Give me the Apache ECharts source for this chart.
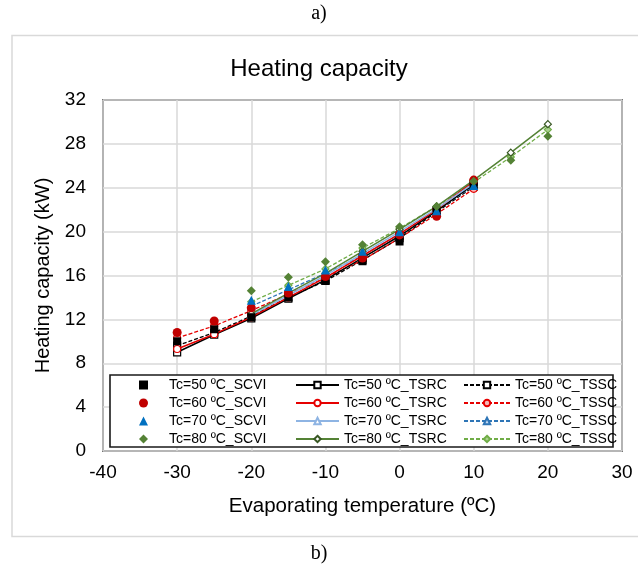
<!DOCTYPE html>
<html>
<head>
<meta charset="utf-8">
<script src="https://cdn.jsdelivr.net/npm/echarts@6/dist/echarts.min.js"></script>
<style>
  html, body { margin: 0; padding: 0; background: #fff; }
  #chart { width: 638px; height: 571px; }
</style>
</head>
<body>
<div id="chart"></div>
<script>
// Evaporating temperatures (ºC) for each condensing temperature
const tempsLow = [-30, -25, -20, -15, -10, -5, 0, 5, 10];
const tempsMid = [-20, -15, -10, -5, 0, 5, 10];
const tempsHigh = [-20, -15, -10, -5, 0, 5, 10, 15, 20];

// Heating capacity (kW)
const tc50_SCVI = [10.0, 11.1, 12.2, 14.0, 15.5, 17.3, 19.1, 21.9, 24.3];
const tc50_TSRC = [9.0, 10.6, 12.1, 13.9, 15.6, 17.6, 19.6, 21.9, 24.3];
const tc50_TSSC = [9.6, 10.8, 12.3, 14.0, 15.5, 17.4, 19.4, 21.8, 24.1];

const tc60_SCVI = [10.8, 11.85, 13.05, 14.4, 15.9, 17.6, 19.7, 21.4, 24.7];
const tc60_TSRC = [9.3, 10.65, 12.2, 14.0, 15.8, 17.8, 19.8, 22.0, 24.6];
const tc60_TSSC = [10.3, 11.4, 12.8, 14.3, 15.8, 17.4, 19.4, 21.6, 23.9];

const tc70_SCVI = [13.75, 15.0, 16.5, 18.2, 20.0, 21.9, 24.2];
const tc70_TSRC = [12.4, 14.2, 16.0, 18.0, 20.0, 22.1, 24.4];
const tc70_TSSC = [13.2, 14.7, 16.2, 17.8, 19.8, 21.9, 24.2];

const tc80_SCVI = [14.6, 15.85, 17.25, 18.8, 20.45, 22.3, 24.6, 26.5, 28.7];
const tc80_TSRC = [12.5, 14.4, 16.2, 18.2, 20.2, 22.3, 24.7, 27.2, 29.8];
const tc80_TSSC = [13.6, 15.1, 16.6, 18.5, 20.3, 22.3, 24.5, 26.8, 29.3];

const xTicks = { min: -40, max: 30, step: 10 };
const yTicks = { min: 0, max: 32, step: 4 };

const pair = (xs, ys) => xs.map((x, i) => [x, ys[i]]);

const groups = [
  { tc: 50, x: tempsLow,  scvi: tc50_SCVI, tsrc: tc50_TSRC, tssc: tc50_TSSC,
    symbol: 'rect', dot: '#000000', solid: '#000000', dash: '#000000', tint: '#ffffff' },
  { tc: 60, x: tempsLow,  scvi: tc60_SCVI, tsrc: tc60_TSRC, tssc: tc60_TSSC,
    symbol: 'circle', dot: '#c00000', solid: '#e60000', dash: '#e60000', tint: '#f4b8b8' },
  { tc: 70, x: tempsMid,  scvi: tc70_SCVI, tsrc: tc70_TSRC, tssc: tc70_TSSC,
    symbol: 'triangle', dot: '#0070c0', solid: '#8eb4e3', dash: '#2e75b6', tint: '#c5d9f1' },
  { tc: 80, x: tempsHigh, scvi: tc80_SCVI, tsrc: tc80_TSRC, tssc: tc80_TSSC,
    symbol: 'diamond', dot: '#548235', solid: '#548235', dash: '#70ad47', tint: '#a9d18e' }
];

const label = (tc, kind) => 'Tc=' + tc + ' ºC_' + kind;

const series = [];
const col1 = [], col2 = [], col3 = [];
groups.forEach(g => {
  const n1 = label(g.tc, 'SCVI'), n2 = label(g.tc, 'TSRC'), n3 = label(g.tc, 'TSSC');
  col1.push(n1); col2.push(n2); col3.push(n3);
  series.push({
    name: n1, type: 'scatter', data: pair(g.x, g.scvi), z: 6,
    symbol: g.symbol, symbolSize: g.symbol === 'rect' ? 8 : 9, symbolKeepAspect: true,
    itemStyle: { color: g.dot, opacity: 1 }
  });
  series.push({
    name: n2, type: 'line', data: pair(g.x, g.tsrc), z: 4,
    symbol: g.symbol, symbolSize: 7, showAllSymbol: true,
    lineStyle: { color: g.solid, width: 1.5, type: 'solid' },
    itemStyle: { color: '#ffffff', borderColor: g.tc === 80 ? '#385723' : g.solid, borderWidth: 1.2 }
  });
  series.push({
    name: n3, type: 'line', data: pair(g.x, g.tssc), z: 3,
    symbol: g.symbol, symbolSize: 7, showAllSymbol: true,
    lineStyle: { color: g.dash, width: 1.3, type: [4, 2] },
    itemStyle: { color: g.tint, borderColor: g.dash, borderWidth: 1.2 }
  });
});

const font = 'Liberation Sans, Arial, sans-serif';
const legendText = { color: '#000', fontSize: 14, fontFamily: font };
const legendBase = {
  orient: 'vertical', top: 373, itemGap: 4, selectedMode: false, z: 8,
  textStyle: legendText, inactiveColor: '#000'
};

const chart = echarts.init(document.getElementById('chart'), null, { renderer: 'canvas' });
chart.setOption({
  backgroundColor: '#ffffff',
  animation: false,
  title: {
    text: 'Heating capacity', left: 'center', top: 52,
    textStyle: { fontSize: 24, fontWeight: 'normal', color: '#000', fontFamily: font }
  },
  grid: {
    left: 103, right: 16, top: 100, bottom: 120,
    show: true, borderColor: '#1a1a1a', borderWidth: 1.6, backgroundColor: 'transparent'
  },
  xAxis: {
    type: 'value', min: xTicks.min, max: xTicks.max, interval: xTicks.step,
    name: 'Evaporating temperature (ºC)', nameLocation: 'middle', nameGap: 45,
    nameTextStyle: { fontSize: 20.5, color: '#000', fontFamily: font },
    axisLine: { show: false }, axisTick: { show: false },
    axisLabel: { fontSize: 19, color: '#000', margin: 12, fontFamily: font },
    splitLine: { show: true, lineStyle: { color: '#d9d9d9', width: 1.5 } }
  },
  yAxis: {
    type: 'value', min: yTicks.min, max: yTicks.max, interval: yTicks.step,
    name: 'Heating capacity (kW)', nameLocation: 'middle', nameGap: 41,
    nameTextStyle: { fontSize: 20, color: '#000', fontFamily: font },
    axisLine: { show: false }, axisTick: { show: false },
    axisLabel: { fontSize: 19, color: '#000', margin: 17, fontFamily: font },
    splitLine: { show: true, lineStyle: { color: '#d9d9d9', width: 1.5 } }
  },
  legend: [
    Object.assign({}, legendBase, {
      data: col1, left: 134, itemWidth: 9, itemHeight: 9,
      textStyle: Object.assign({}, legendText, { padding: [0, 0, 0, 16] })
    }),
    Object.assign({}, legendBase, { data: col2, left: 290, itemWidth: 43, itemHeight: 8 }),
    Object.assign({}, legendBase, { data: col3, left: 458, itemWidth: 46, itemHeight: 8 })
  ],
  graphic: [
    { type: 'rect', z: -10, silent: true,
      shape: { x: 12, y: 35.5, width: 640, height: 501 },
      style: { fill: 'none', stroke: '#d9d9d9', lineWidth: 1.5 } },
    { type: 'rect', z: 7, silent: true,
      shape: { x: 110, y: 375, width: 503, height: 72 },
      style: { fill: '#ffffff', stroke: '#1a1a1a', lineWidth: 1.6 } },
    { type: 'text', z: 10, silent: true, left: 'center', top: 4,
      style: { text: 'a)', fontSize: 20, fill: '#000', fontFamily: 'Liberation Serif, Times New Roman, serif' } },
    { type: 'text', z: 10, silent: true, left: 'center', top: 544,
      style: { text: 'b)', fontSize: 20, fill: '#000', fontFamily: 'Liberation Serif, Times New Roman, serif' } }
  ],
  series: series
});
</script>
</body>
</html>
